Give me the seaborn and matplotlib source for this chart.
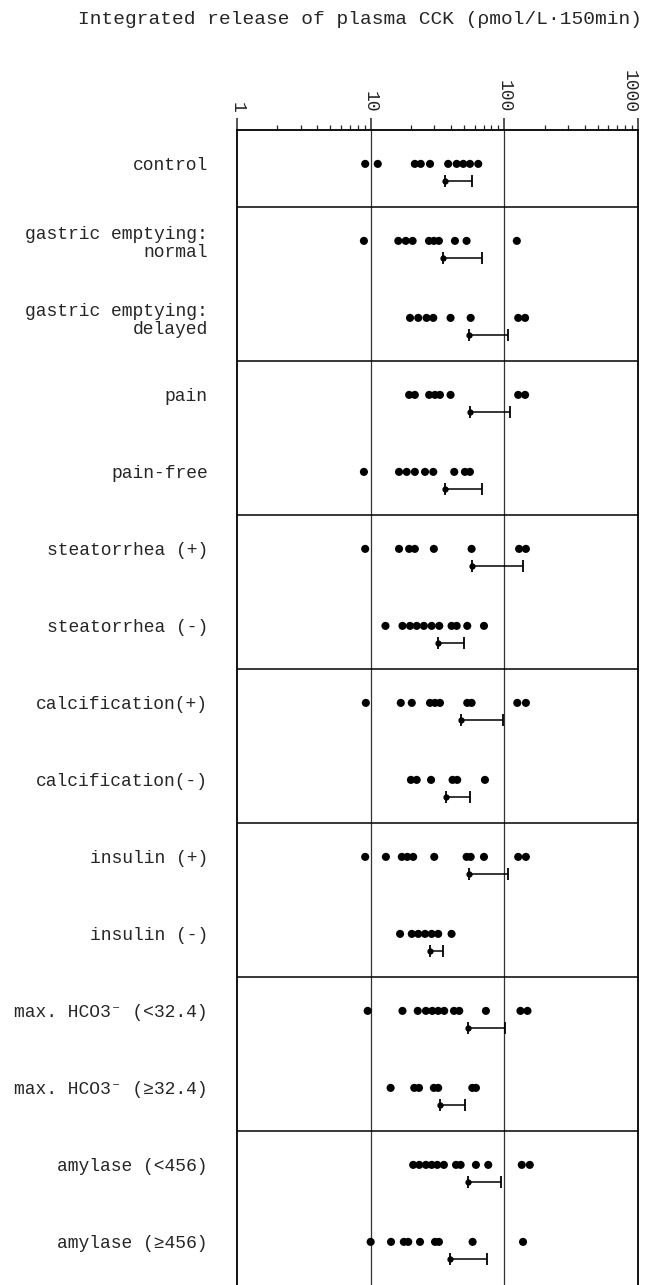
import numpy as np
import pandas as pd
import matplotlib
matplotlib.use('Agg')
import matplotlib.pyplot as plt
import seaborn as sns
from matplotlib.ticker import LogLocator, NullFormatter, FixedFormatter, FixedLocator

sns.set_style('ticks')
plt.rcParams['font.family'] = ['Liberation Mono', 'DejaVu Sans Mono']

# 组别标签
groups = ['control',
          'gastric emptying:\nnormal', 'gastric emptying:\ndelayed',
          'pain', 'pain-free',
          'steatorrhea (+)', 'steatorrhea (-)',
          'calcification(+)', 'calcification(-)',
          'insulin (+)', 'insulin (-)',
          'max. HCO3\u207b (<32.4)', 'max. HCO3\u207b (\u226532.4)',
          'amylase (<456)', 'amylase (\u2265456)']

# 各组个体值 (pmol/L·150min)
control = [9.1, 11.3, 21.4, 23.7, 27.8, 38.0, 44.0, 49.3, 55.3, 63.8]
ge_normal = [8.9, 16.1, 18.3, 20.6, 27.3, 29.7, 32.4, 42.7, 52.2, 124]
ge_delayed = [19.7, 22.7, 26.2, 29.4, 39.6, 56.0, 127, 143]
pain = [19.4, 21.4, 27.4, 30.3, 33.0, 39.6, 127, 143]
pain_free = [8.9, 16.3, 18.6, 21.4, 25.5, 29.4, 42.2, 50.7, 55.3]
steat_pos = [9.1, 16.3, 19.4, 21.4, 29.7, 56.9, 129, 145]
steat_neg = [12.9, 17.3, 19.7, 22.1, 25.0, 28.6, 32.6, 40.3, 44.0, 52.8, 70.4]
calc_pos = [9.2, 16.8, 20.3, 27.8, 30.3, 33.0, 52.8, 56.9, 125, 145]
calc_neg = [20.0, 22.1, 28.3, 41.0, 44.4, 71.6]
ins_pos = [9.1, 13.0, 17.1, 18.8, 20.8, 29.9, 52.2, 56.0, 70.4, 127, 145]
ins_neg = [16.6, 20.3, 22.7, 25.5, 28.6, 32.0, 40.3]
hco_low = [9.5, 17.3, 22.5, 25.9, 28.9, 32.0, 35.5, 42.0, 46.0, 72.8, 132, 149]
hco_high = [14.1, 21.2, 23.0, 29.7, 32.0, 57.6, 61.3]
amy_low = [20.8, 23.1, 25.9, 28.6, 31.5, 35.3, 43.5, 47.1, 61.3, 75.8, 135, 155]
amy_high = [10.0, 14.2, 17.7, 19.1, 23.4, 30.3, 32.4, 57.9, 138]

values = [control, ge_normal, ge_delayed, pain, pain_free, steat_pos, steat_neg,
          calc_pos, calc_neg, ins_pos, ins_neg, hco_low, hco_high, amy_low, amy_high]

# 均值与上端 (mean + SD)
means = [35.9, 34.9, 54.7, 55.3, 35.9, 56.9, 32.0, 47.4, 36.4, 54.7, 27.8, 53.7, 33.0, 53.7, 39.2]
uppers = [56.9, 67.6, 107, 110, 68.4, 138, 49.9, 97.1, 55.3, 107, 34.9, 101, 50.7, 93.8, 74.5]

rows = np.arange(len(groups))
df = pd.DataFrame({
    'row': np.repeat(rows, [len(v) for v in values]),
    'value': np.concatenate(values),
})
df['y'] = df['row'] - 0.06

fig = plt.figure(figsize=(6.45, 12.85), dpi=100)
ax = fig.add_axes([237 / 645, 0, 401 / 645, 1155 / 1285])

sns.scatterplot(data=df, x='value', y='y', color='black', s=34,
                edgecolor='none', ax=ax, legend=False, zorder=4)

mean_arr = np.array(means)
up_arr = np.array(uppers)
ax.errorbar(mean_arr, rows + 0.16, xerr=[np.zeros_like(mean_arr), up_arr - mean_arr],
            fmt='o', color='black', markersize=3.5, elinewidth=1.1,
            capsize=4, capthick=1.3, zorder=4)

ax.set_xscale('log')
ax.set_xlim(1, 1000)
ax.set_ylim(len(groups) - 0.5, -0.5)

# 分组分隔线与参考线
for b in np.arange(0.5, 13, 2):
    ax.axhline(b, color='black', linewidth=1.1, zorder=2)
for v in [10, 100]:
    ax.axvline(v, color='#333333', linewidth=0.9, zorder=1)

ax.xaxis.tick_top()
ax.xaxis.set_major_locator(FixedLocator([1, 10, 100, 1000]))
ax.xaxis.set_major_formatter(FixedFormatter(['1', '10', '100', '1000']))
ax.xaxis.set_minor_locator(LogLocator(base=10, subs=np.arange(2, 10), numticks=20))
ax.xaxis.set_minor_formatter(NullFormatter())
ax.tick_params(axis='x', which='major', top=True, bottom=False, labeltop=True,
               labelbottom=False, length=8.5, width=1.1, direction='out',
               labelrotation=-90, labelsize=13, pad=4)
ax.tick_params(axis='x', which='minor', top=True, bottom=False, length=3.5,
               width=0.9, direction='out')

ax.set_yticks(rows - 0.06)
ax.set_yticklabels(groups)
ax.tick_params(axis='y', length=0, pad=21, labelsize=13)
for t in ax.get_yticklabels():
    t.set_linespacing(1.05)

ax.set_xlabel('')
ax.set_ylabel('')
for side in ['left', 'right', 'top']:
    ax.spines[side].set_linewidth(1.3)
    ax.spines[side].set_color('black')
ax.spines['bottom'].set_visible(False)

fig.text(642 / 645, 1 - 19 / 1285, 'Integrated release of plasma CCK (\u03c1mol/L\u00b7150min)',
         ha='right', va='center', fontsize=14)

# 1000 标签贴边，右对齐避免被裁切
fig.canvas.draw()
for tick in ax.xaxis.get_major_ticks():
    if tick.get_loc() == 1000:
        tick.label2.set_horizontalalignment('right')
        tick.label2.set_x(1000)

fig.savefig('out.png', dpi=100)
plt.close(fig)
